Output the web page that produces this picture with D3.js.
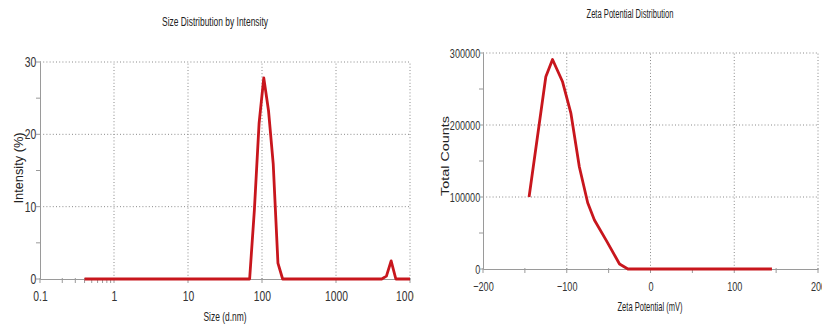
<!DOCTYPE html>
<html>
<head>
<meta charset="utf-8">
<script src="https://cdn.jsdelivr.net/npm/d3@7"></script>
<style>
  body { margin: 0; background: #fff; }
  svg { display: block; }
  text { font-family: "Liberation Sans", Arial, sans-serif; }
</style>
</head>
<body>
<script>

// size distribution (d.nm vs intensity %)
var sizeX = [0.4, 1, 10, 68.06, 78.82, 91.28, 105.7, 122.4, 141.8, 164.2, 190.1, 1000, 4145, 4801, 5560, 6439, 7456, 10000];
var sizeY = [0, 0, 0, 0, 9.5, 21.5, 27.8, 23.3, 15.9, 2.2, 0, 0, 0, 0.4, 2.5, 0, 0, 0];
var sizeXTicks = [0.1, 1, 10, 100, 1000, 10000];
var sizeYTicks = [0, 10, 20, 30];
var sizeYMinor = [5, 15, 25];

// zeta potential (mV vs total counts)
var zetaX = [-145, -125, -117, -105, -95, -85, -75, -67, -52, -37, -27, 0, 50, 100, 145];
var zetaY = [100000, 267000, 291000, 260000, 216000, 142000, 92000, 68000, 38000, 7000, 0, 0, 0, 0, 0];
var zetaXTicks = [-200, -100, 0, 100, 200];
var zetaXMinor = [-150, -50, 50, 150];
var zetaYTicks = [0, 100000, 200000, 300000];
var zetaYMinor = [50000, 150000, 250000];

var svg = d3.select("body").append("svg")
    .attr("width", 822)
    .attr("height", 328);

var defs = svg.append("defs");
defs.append("clipPath").attr("id", "leftclip")
  .append("rect").attr("x", 0).attr("y", 0).attr("width", 414).attr("height", 328);

function panel(g, o) {
   var x = o.x, y = o.y;
   var x0 = x.range()[0], x1 = x.range()[1];
   var y0 = y.range()[0], y1 = y.range()[1];

   // dotted grid
   g.selectAll(".vgrid").data(o.xTicks.filter(d => x(d) > x0 + 1)).enter()
      .append("line")
      .attr("x1", d => x(d)).attr("x2", d => x(d))
      .attr("y1", y0).attr("y2", y1)
      .attr("stroke", "#8a8a8a").attr("stroke-dasharray", "1,2.2");
   g.selectAll(".hgrid").data(o.yTicks.filter(d => y(d) < y0 - 1)).enter()
      .append("line")
      .attr("x1", x0).attr("x2", x1)
      .attr("y1", d => y(d)).attr("y2", d => y(d))
      .attr("stroke", "#8a8a8a").attr("stroke-dasharray", "1,2.2");

   // axes
   var ax = g.append("g").attr("transform", "translate(0," + y0 + ")")
      .call(d3.axisBottom(x).tickValues(o.xTicks).tickSize(0).tickPadding(o.xPad).tickFormat(o.xFormat));
   var ay = g.append("g").attr("transform", "translate(" + x0 + ",0)")
      .call(d3.axisLeft(y).tickValues(o.yTicks).tickSize(0).tickPadding(o.yPad).tickFormat(d3.format("d")));
   [ax, ay].forEach(a => {
      a.attr("font-family", null).attr("font-size", null);
      a.select(".domain").attr("stroke", "#9a9a9a").attr("stroke-width", 1);
      a.selectAll("text")
         .attr("font-size", o.tickFont)
         .attr("fill", "#333")
         .attr("transform", "scale(" + o.squeeze + ",1)");
   });

   // tick marks
   g.selectAll(".xt").data(o.xTicks.concat(o.xMinor)).enter().append("line")
      .attr("x1", d => x(d)).attr("x2", d => x(d))
      .attr("y1", y0 - 1).attr("y2", y0 + 4)
      .attr("stroke", "#9a9a9a");
   g.selectAll(".yt").data(o.yTicks.concat(o.yMinor)).enter().append("line")
      .attr("x1", x0 - 4).attr("x2", x0 + 1)
      .attr("y1", d => y(d)).attr("y2", d => y(d))
      .attr("stroke", "#9a9a9a");

   // data line
   var line = d3.line().x(d => x(d[0])).y(d => y(d[1]));
   g.append("path")
      .datum(o.xs.map((v, i) => [v, o.ys[i]]))
      .attr("d", line)
      .attr("fill", "none")
      .attr("stroke", "#c8161d")
      .attr("stroke-width", 2.8)
      .attr("stroke-linejoin", "round");

   // texts
   g.append("text")
      .attr("x", o.title[1]).attr("y", o.title[2])
      .attr("text-anchor", "middle").attr("font-size", 12).attr("fill", "#222")
      .attr("textLength", o.title[3]).attr("lengthAdjust", "spacingAndGlyphs")
      .text(o.title[0]);
   g.append("text")
      .attr("x", o.xLabel[1]).attr("y", o.xLabel[2])
      .attr("text-anchor", "middle").attr("font-size", 13).attr("fill", "#222")
      .attr("textLength", o.xLabel[3]).attr("lengthAdjust", "spacingAndGlyphs")
      .text(o.xLabel[0]);
   g.append("text")
      .attr("transform", "translate(" + o.yLabel[1] + "," + o.yLabel[2] + ") rotate(-90)")
      .attr("text-anchor", "middle").attr("font-size", o.yLabel[4]).attr("fill", "#222")
      .attr("textLength", o.yLabel[3]).attr("lengthAdjust", "spacingAndGlyphs")
      .text(o.yLabel[0]);
}

var left = svg.append("g").attr("clip-path", "url(#leftclip)");
panel(left, {
   x: d3.scaleLog().domain([0.1, 10000]).range([40, 410]),
   y: d3.scaleLinear().domain([0, 30]).range([279, 62]),
   xs: sizeX, ys: sizeY,
   xTicks: sizeXTicks,
   xMinor: [0.2, 0.3, 0.4, 0.5, 0.6, 0.7, 0.8, 0.9],
   yTicks: sizeYTicks, yMinor: sizeYMinor,
   xFormat: d => String(d),
   xPad: 12, yPad: 5, tickFont: 14, squeeze: 0.74,
   title: ["Size Distribution by Intensity", 215, 26, 106],
   xLabel: ["Size (d.nm)", 225, 321, 43],
   yLabel: ["Intensity (%)", 23, 168, 71, 12]
});

var right = svg.append("g");
panel(right, {
   x: d3.scaleLinear().domain([-200, 200]).range([483, 818]),
   y: d3.scaleLinear().domain([0, 300000]).range([269, 53]),
   xs: zetaX, ys: zetaY,
   xTicks: zetaXTicks, xMinor: zetaXMinor,
   yTicks: zetaYTicks, yMinor: zetaYMinor,
   xFormat: d3.format("d"),
   xPad: 13, yPad: 4, tickFont: 13, squeeze: 0.7,
   title: ["Zeta Potential Distribution", 630, 18, 87],
   xLabel: ["Zeta Potential (mV)", 650, 311, 65],
   yLabel: ["Total Counts", 449, 156, 80, 11]
});

</script>
</body>
</html>
